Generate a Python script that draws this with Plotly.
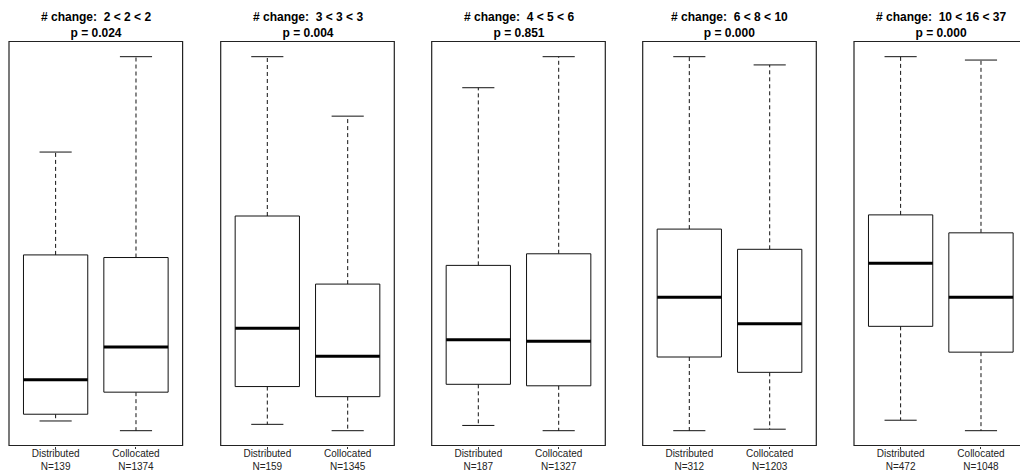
import plotly.graph_objects as go

# ---- data (normalised values) ----
titles = ["# change:  2 < 2 < 2", "# change:  3 < 3 < 3", "# change:  4 < 5 < 6",
          "# change:  6 < 8 < 10", "# change:  10 < 16 < 37"]
pvalues = ["p = 0.024", "p = 0.004", "p = 0.851", "p = 0.000", "p = 0.000"]
groups = ["Distributed", "Collocated"]
n_dist = [139, 159, 187, 312, 472]
n_coll = [1374, 1345, 1327, 1203, 1048]

# [lower whisker, Q1, median, Q3, upper whisker]
dist_stats = [
    [0.026, 0.044, 0.136, 0.470, 0.745],
    [0.017, 0.118, 0.274, 0.574, 1.000],
    [0.014, 0.124, 0.243, 0.442, 0.917],
    [0.000, 0.197, 0.357, 0.539, 1.000],
    [0.028, 0.279, 0.448, 0.577, 1.000],
]
coll_stats = [
    [0.000, 0.103, 0.224, 0.463, 1.000],
    [0.000, 0.091, 0.199, 0.392, 0.841],
    [0.000, 0.120, 0.239, 0.473, 1.000],
    [0.004, 0.156, 0.286, 0.485, 0.978],
    [0.000, 0.210, 0.357, 0.529, 0.991],
]

W, H = 1020, 475
panel_left = [9.0, 220.7, 431.7, 642.7, 854.0]
panel_w = 173.6
top_px, bot_px = 41.5, 445.5
px_per_unit = panel_w / 2.16

fig = go.Figure()
layout_axes = {}
shapes = []
annotations = []

BOX_HALF = 0.4
CAP_HALF = 0.2
LINE = "#111111"

for i in range(5):
    n = i + 1
    xa = "x" if n == 1 else f"x{n}"
    ya = "y" if n == 1 else f"y{n}"
    left = panel_left[i]
    right = min(left + panel_w, W)
    x0 = left / W
    x1 = right / W
    xmax = 0.42 + (right - left) / px_per_unit
    layout_axes[("xaxis" if n == 1 else f"xaxis{n}")] = dict(
        domain=[x0, x1], range=[0.42, xmax], anchor=ya,
        tickvals=[1, 2],
        ticktext=[f"{groups[0]}<br>N={n_dist[i]}", f"{groups[1]}<br>N={n_coll[i]}"],
        ticks="outside", ticklen=2, tickcolor="#333333", tickwidth=1,
        ticklabelstandoff=-4,
        tickfont=dict(family="Liberation Sans, Arial", size=10, color="#222222"),
        showgrid=False, zeroline=False, showline=False, fixedrange=True,
    )
    layout_axes[("yaxis" if n == 1 else f"yaxis{n}")] = dict(
        domain=[1 - bot_px / H, 1 - top_px / H], range=[-0.0396, 1.0406], anchor=xa,
        showticklabels=False, ticks="", showgrid=False, zeroline=False, showline=False,
        fixedrange=True,
    )
    # frame
    frame_x1 = (left + panel_w - left) / (right - left)
    shapes.append(dict(type="rect", xref=f"{xa} domain", yref=f"{ya} domain",
                       x0=0, x1=frame_x1, y0=0, y1=1,
                       line=dict(color="#222222", width=1.2)))
    # title
    annotations.append(dict(
        text=f"<b>{titles[i]}</b><br><b>{pvalues[i]}</b>",
        xref=f"{xa} domain", yref="paper", x=(panel_w / 2) / (right - left), y=1 - 8 / H,
        xanchor="center", yanchor="top", showarrow=False,
        font=dict(family="Liberation Sans, Arial", size=12, color="#000000"),
    ))

    for c, st in ((1, dist_stats[i]), (2, coll_stats[i])):
        lo, q1, med, q3, hi = st
        # whiskers (dashed)
        fig.add_trace(go.Scatter(
            x=[c, c, None, c, c], y=[q3, hi, None, q1, lo], mode="lines",
            line=dict(color=LINE, width=1, dash="4px,3px"),
            xaxis=xa, yaxis=ya, showlegend=False, hoverinfo="skip"))
        # caps
        fig.add_trace(go.Scatter(
            x=[c - CAP_HALF, c + CAP_HALF, None, c - CAP_HALF, c + CAP_HALF],
            y=[hi, hi, None, lo, lo], mode="lines",
            line=dict(color=LINE, width=1),
            xaxis=xa, yaxis=ya, showlegend=False, hoverinfo="skip"))
        # box
        fig.add_trace(go.Scatter(
            x=[c - BOX_HALF, c + BOX_HALF, c + BOX_HALF, c - BOX_HALF, c - BOX_HALF],
            y=[q1, q1, q3, q3, q1], mode="lines",
            fill="toself", fillcolor="white",
            line=dict(color=LINE, width=1),
            xaxis=xa, yaxis=ya, showlegend=False, hoverinfo="skip"))
        # median
        fig.add_trace(go.Scatter(
            x=[c - BOX_HALF, c + BOX_HALF], y=[med, med], mode="lines",
            line=dict(color="#000000", width=3),
            xaxis=xa, yaxis=ya, showlegend=False, hoverinfo="skip"))

fig.update_layout(
    width=W, height=H,
    margin=dict(l=0, r=0, t=0, b=0),
    paper_bgcolor="white", plot_bgcolor="white",
    shapes=shapes, annotations=annotations,
    showlegend=False, hovermode=False,
    **layout_axes,
)

fig.write_html("out.html", config={"displayModeBar": False},
               post_script="document.body.style.margin='0px';document.body.style.overflow='hidden';")
